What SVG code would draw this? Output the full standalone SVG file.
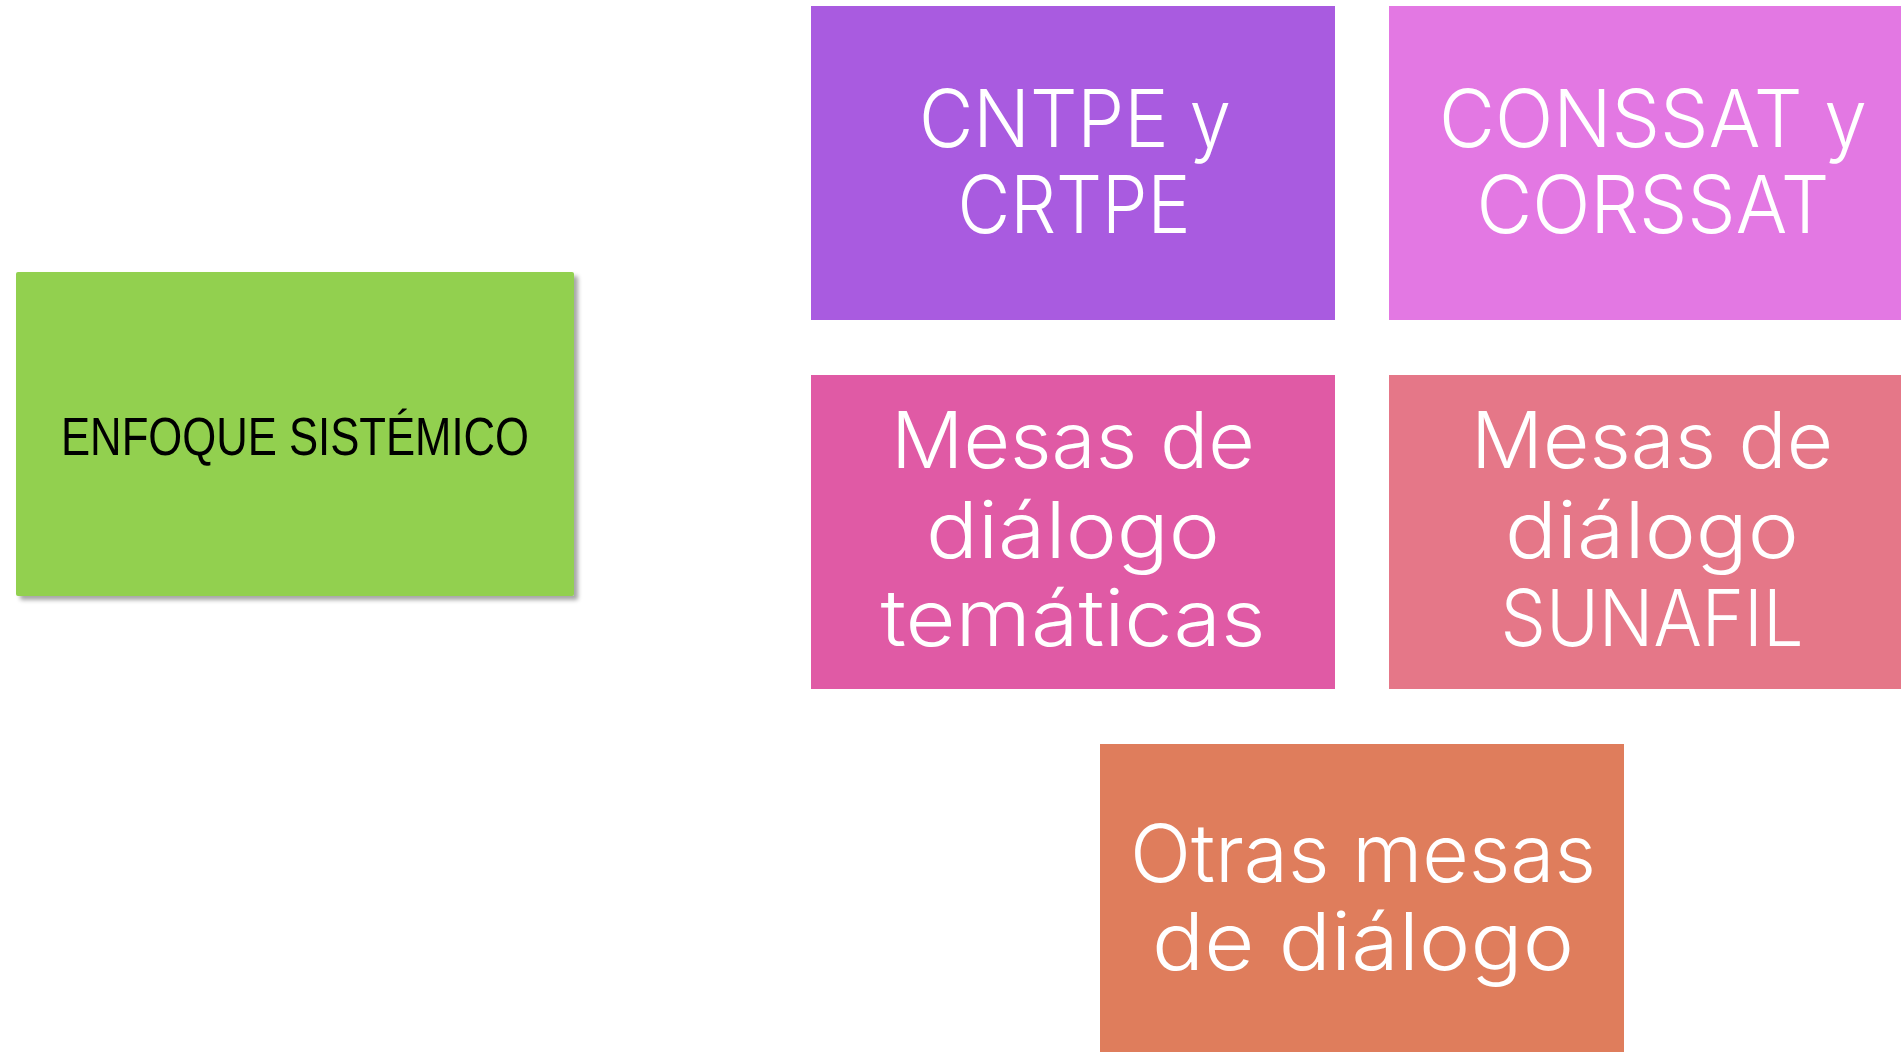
<svg xmlns="http://www.w3.org/2000/svg" width="1901" height="1052" viewBox="0 0 1901 1052">
<style>
.w{font-family:"Inter","Lato","Liberation Sans",sans-serif;font-weight:300;fill:#ffffff;text-anchor:middle}
.b{font-family:"Liberation Sans",Arial,sans-serif;fill:#000000;text-anchor:middle}
</style>
<defs>
<filter id="sh" x="-5%" y="-5%" width="115%" height="115%">
<feDropShadow dx="4" dy="4" stdDeviation="2" flood-color="#000" flood-opacity="0.35"/>
</filter>
</defs>
<rect width="1901" height="1052" fill="#ffffff"/>
<g id="connectors"></g>
<g id="enfoque">
<rect x="16" y="272" width="558" height="324" rx="2" fill="#92D050" filter="url(#sh)"/>
<text class="b" x="295" y="455" font-size="54" textLength="468" lengthAdjust="spacingAndGlyphs">ENFOQUE SISTÉMICO</text>
</g>
<g id="cntpe">
<rect x="811" y="6" width="524" height="314" fill="#A95BE0"/>
<text class="w" font-size="80"><tspan x="1075" y="147" textLength="312" lengthAdjust="spacingAndGlyphs">CNTPE y</tspan><tspan x="1074" y="233" textLength="233" lengthAdjust="spacingAndGlyphs">CRTPE</tspan></text>
</g>
<g id="conssat">
<rect x="1389" y="6" width="524" height="314" fill="#E378E3"/>
<text class="w" font-size="80"><tspan x="1653" y="147" textLength="428" lengthAdjust="spacingAndGlyphs">CONSSAT y</tspan><tspan x="1653" y="233" textLength="353" lengthAdjust="spacingAndGlyphs">CORSSAT</tspan></text>
</g>
<g id="mesas-tematicas">
<rect x="811" y="375" width="524" height="314" fill="#E05AA5"/>
<text class="w" font-size="78"><tspan x="1073" y="468" textLength="364" lengthAdjust="spacingAndGlyphs">Mesas de</tspan><tspan x="1073" y="558" textLength="294" lengthAdjust="spacingAndGlyphs">diálogo</tspan><tspan x="1073" y="646" textLength="385" lengthAdjust="spacingAndGlyphs">temáticas</tspan></text>
</g>
<g id="mesas-sunafil">
<rect x="1389" y="375" width="524" height="314" fill="#E57788"/>
<text class="w" font-size="78"><tspan x="1652" y="468" textLength="362" lengthAdjust="spacingAndGlyphs">Mesas de</tspan><tspan x="1652" y="558" textLength="294" lengthAdjust="spacingAndGlyphs">diálogo</tspan><tspan x="1652" y="646" textLength="303" lengthAdjust="spacingAndGlyphs">SUNAFIL</tspan></text>
</g>
<g id="otras">
<rect x="1100" y="744" width="524" height="320" fill="#DF7D5C"/>
<text class="w" font-size="80"><tspan x="1363" y="882" textLength="466" lengthAdjust="spacingAndGlyphs">Otras mesas</tspan><tspan x="1363" y="970" textLength="422" lengthAdjust="spacingAndGlyphs">de diálogo</tspan></text>
</g>
</svg>
